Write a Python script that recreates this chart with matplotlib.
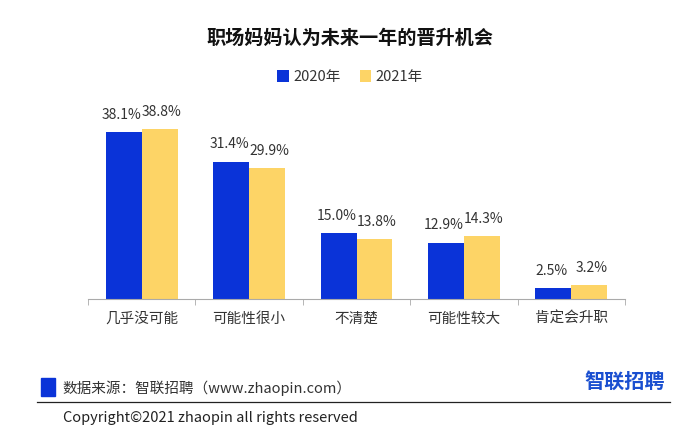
import matplotlib
matplotlib.use('Agg')
import matplotlib.pyplot as plt
from matplotlib.patches import Rectangle
from matplotlib.lines import Line2D
import numpy as np

plt.rcParams['font.family'] = ['Noto Sans CJK SC', 'DejaVu Sans']

categories = ['几乎没可能', '可能性很小', '不清楚', '可能性较大', '肯定会升职']
y2020 = [38.1, 31.4, 15.0, 12.9, 2.5]
y2021 = [38.8, 29.9, 13.8, 14.3, 3.2]
series_names = ['2020年', '2021年']

blue = '#0a33d8'
yellow = '#fdd466'
text_c = '#333333'

fig = plt.figure(figsize=(7, 4.4), dpi=100)
ax = fig.add_axes([88/700, 1 - 299/440, (625 - 88)/700, 190/440])

x = np.arange(len(categories))
w = 0.335
ax.bar(x - w/2, y2020, w, color=blue, label=series_names[0])
ax.bar(x + w/2, y2021, w, color=yellow, label=series_names[1])

for i in range(len(categories)):
    ax.text(x[i] - w/2 - 0.02, y2020[i] + 2.3, f'{y2020[i]:.1f}%', ha='center', va='bottom',
            fontsize=10, color=text_c)
    ax.text(x[i] + w/2 + 0.02, y2021[i] + 2.3, f'{y2021[i]:.1f}%', ha='center', va='bottom',
            fontsize=10, color=text_c)

ax.set_xlim(-0.5, len(categories) - 0.5)
ax.set_ylim(0, 43.4)
ax.set_yticks([])
ax.set_xticks(np.arange(len(categories) + 1) - 0.5, minor=True)
ax.set_xticks(x)
ax.set_xticklabels(categories, fontsize=10.5, color=text_c)
ax.tick_params(axis='x', which='major', length=0, pad=9)
ax.tick_params(axis='x', which='minor', length=4, color='#aaaaaa')
for s in ['top', 'right', 'left']:
    ax.spines[s].set_visible(False)
ax.spines['bottom'].set_color('#aaaaaa')

fig.text(0.5, 1 - 38/440, '职场妈妈认为未来一年的晋升机会', ha='center', va='center',
         fontsize=13.8, fontweight='bold', color='#111111')

leg = ax.legend(loc='center', bbox_to_anchor=(0.5, 1 - 77/440), bbox_transform=fig.transFigure,
                ncol=2, frameon=False, fontsize=10.5, handlelength=0.8, handleheight=0.8,
                handletextpad=0.3, columnspacing=1.3)
for t in leg.get_texts():
    t.set_color(text_c)

# footer
fig.patches.append(Rectangle((41/700, 1 - 396/440), 14/700, 18/440, transform=fig.transFigure,
                             color=blue, zorder=3))
fig.text(62/700, 1 - 388/440, '数据来源：智联招聘（www.zhaopin.com）', ha='left', va='center',
         fontsize=10.5, color=text_c)
fig.lines.append(Line2D([37/700, 670/700], [1 - 402/440, 1 - 402/440], transform=fig.transFigure,
                        color='#222222', lw=0.9))
fig.text(63/700, 1 - 418/440, 'Copyright©2021 zhaopin all rights reserved', ha='left', va='center',
         fontsize=10.5, color='#222222')
fig.text(665/700, 1 - 381/440, '智联招聘', ha='right', va='center', fontsize=14.5,
         fontweight='bold', color='#1a4fd0')

fig.savefig('out.png', dpi=100, facecolor='white')
